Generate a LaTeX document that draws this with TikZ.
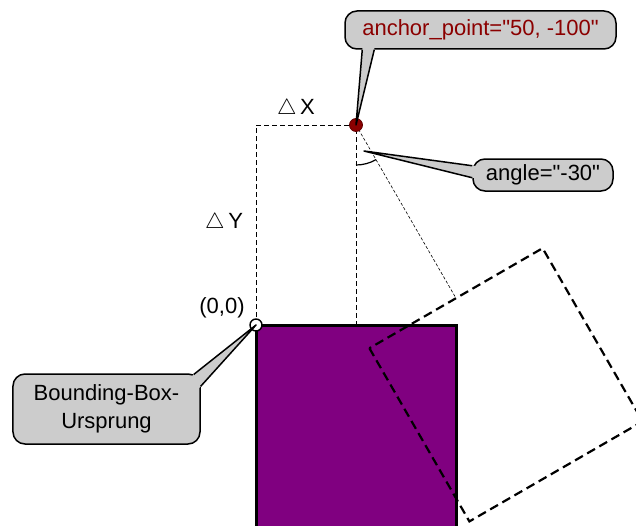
\documentclass[tikz,border=0pt]{standalone}
\usepackage{fontspec}
\setmainfont{Liberation Sans}
\usepackage{xcolor}
\usetikzlibrary{calc}

\definecolor{boxpurple}{RGB}{128,0,128}
\definecolor{pointred}{RGB}{139,0,0}
\definecolor{calloutgray}{RGB}{204,204,204}

\tikzset{
  calloutbox/.style={draw=black, line width=0.75pt, fill=calloutgray,
    rounded corners=6pt, inner sep=0pt, align=center},
  pointerline/.style={line width=0.75pt, line join=round},
  helpline/.style={dash pattern=on 2.5pt off 1.5pt, line width=0.5pt},
  rayline/.style={dash pattern=on 1.5pt off 1pt, line width=0.3pt},
  rotbox/.style={dash pattern=on 4.5pt off 2.5pt, line width=1.1pt}
}

\begin{document}
\begin{tikzpicture}[x=1pt, y=1pt, font=\fontsize{11}{14}\selectfont]
\clip (-128,-100) rectangle (190,162.5);

\coordinate (O) at (0,0);
\coordinate (A) at (50,100);

% offset frame dX / dY
\draw[helpline] (O) -- (0,100) -- (A) -- (50,0);
\node (dx) at (20,108) {$\triangle$\,X};
\node[anchor=east] (dy) at (-3,51) {$\triangle$\,Y};

% original box
\filldraw[fill=boxpurple, draw=black, line width=1.5pt] (O) rectangle (100,-120);

% rotated box around the anchor point
\begin{scope}[rotate around={30:(A)}]
  \draw[rotbox] (0,0) rectangle (100,-100);
  \coordinate (rtop) at (50,0);
\end{scope}
\draw[rayline] (A) -- (rtop);
\draw[line width=0.6pt] (A) ++(270:20) arc[start angle=270, end angle=300, radius=20];
\coordinate (angtip) at (54,87);

% markers
\node[circle, fill=pointred, draw=pointred!70!black, inner sep=0pt, minimum size=6.5pt] (apt) at (A) {};
\node[circle, fill=white, draw=black, line width=0.7pt, inner sep=0pt, minimum size=6pt] (orig) at (O) {};
\node[anchor=south east, inner sep=0pt] (zero) at ($(O)+(-5.5,3.5)$) {(0,0)};

% callout: anchor point
\node[calloutbox, minimum width=135.5, minimum height=19, text=pointred] (ap) at (112.25,147.5)
  {anchor\_point=\textquotedbl 50, -100\textquotedbl};
\coordinate (ap1) at ($(ap.south west)+(9,0)$);
\coordinate (ap2) at ($(ap.south west)+(15,0)$);
\fill[calloutgray] (A) -- (ap1) -- ($(ap1)+(0,1.5)$) -- ($(ap2)+(0,1.5)$) -- (ap2) -- cycle;
\draw[pointerline] (ap1) -- (A) -- (ap2);

% callout: angle
\node[calloutbox, minimum width=70, minimum height=16] (ang) at (143.5,75)
  {angle=\textquotedbl -30\textquotedbl};
\coordinate (ang1) at ($(ang.south west)+(0,7)$);
\coordinate (ang2) at ($(ang.south west)+(0,13)$);
\fill[calloutgray] (angtip) -- (ang1) -- ($(ang1)+(1.5,0)$) -- ($(ang2)+(1.5,0)$) -- (ang2) -- cycle;
\draw[pointerline] (ang1) -- (angtip) -- (ang2);

% callout: bounding box origin
\node[calloutbox, minimum width=93.5, minimum height=35] (bb) at (-74.75,-42) {Bounding-Box-\\Ursprung};
\coordinate (bb1) at ($(bb.north east)+(-3.5,-0.6)$);
\coordinate (bb2) at ($(bb.north east)+(0,-6.5)$);
\fill[calloutgray] (O) -- (bb1) -- ($(bb1)+(-1.5,-1.5)$) -- ($(bb2)+(-1.5,-1.5)$) -- (bb2) -- cycle;
\draw[pointerline] (bb1) -- (O) -- (bb2);
\end{tikzpicture}
\end{document}
